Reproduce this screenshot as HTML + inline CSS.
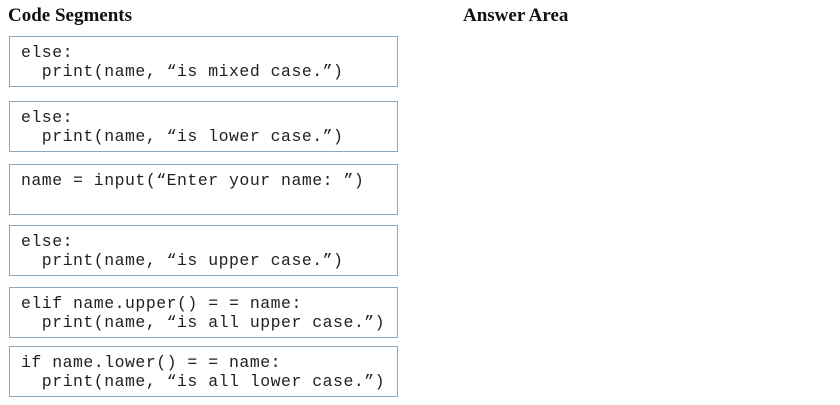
<!DOCTYPE html>
<html><head><style>
body{margin:0;width:840px;height:405px;background:#fff;position:relative;overflow:hidden}
.t{position:absolute;top:5px;font:bold 19px "Liberation Serif",serif;color:#111}
.b{position:absolute;left:9px;width:387px;height:49px;border:1.5px solid #8fa8bc;box-sizing:content-box}
.b pre{margin:0;position:absolute;left:11px;top:6px;font:16.5px/19px "Liberation Mono",monospace;letter-spacing:0.5px;color:#222}
</style></head><body>
<div class="t" style="left:8px">Code Segments</div>
<div class="t" style="left:463px">Answer Area</div>
<div class="b" style="top:36px"><pre>else:
  print(name, “is mixed case.”)</pre></div>
<div class="b" style="top:101px"><pre>else:
  print(name, “is lower case.”)</pre></div>
<div class="b" style="top:164px"><pre>name = input(“Enter your name: ”)</pre></div>
<div class="b" style="top:225px"><pre>else:
  print(name, “is upper case.”)</pre></div>
<div class="b" style="top:287px"><pre>elif name.upper() = = name:
  print(name, “is all upper case.”)</pre></div>
<div class="b" style="top:346px"><pre>if name.lower() = = name:
  print(name, “is all lower case.”)</pre></div>
</body></html>
